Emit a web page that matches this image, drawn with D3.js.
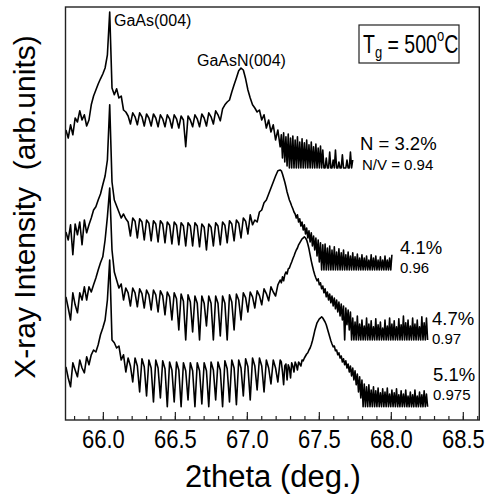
<!DOCTYPE html>
<html><head><meta charset="utf-8">
<script src="https://cdn.jsdelivr.net/npm/d3@7"></script>
<style>body{margin:0;background:#fff}text{font-family:"Liberation Sans",Arial,sans-serif;fill:#000}</style>
</head><body><svg id="c" width="489" height="501"></svg>
<script>
// 2theta sampling (deg.): coarse to 67.228, finer afterwards
const theta = [65.740,65.756,65.772,65.788,65.804,65.820,65.836,65.852,65.868,65.884,
65.900,65.916,65.932,65.948,65.964,65.980,65.996,66.012,66.028,66.044,
66.060,66.076,66.092,66.108,66.124,66.140,66.156,66.172,66.188,66.204,
66.220,66.236,66.252,66.268,66.284,66.300,66.316,66.332,66.348,66.364,
66.380,66.396,66.412,66.428,66.444,66.460,66.476,66.492,66.508,66.524,
66.540,66.556,66.572,66.588,66.604,66.620,66.636,66.652,66.668,66.684,
66.700,66.716,66.732,66.748,66.764,66.780,66.796,66.812,66.828,66.844,
66.860,66.876,66.892,66.908,66.924,66.940,66.956,66.972,66.988,67.004,
67.020,67.036,67.052,67.068,67.084,67.100,67.116,67.132,67.148,67.164,
67.180,67.196,67.212,67.228,
67.236,67.244,67.252,67.260,67.268,67.276,67.284,67.292,67.300,67.308,
67.316,67.324,67.332,67.340,67.348,67.356,67.364,67.372,67.380,67.388,
67.396,67.404,67.412,67.420,67.428,67.436,67.444,67.452,67.460,67.468,
67.476,67.484,67.492,67.500,67.508,67.516,67.524,67.532,67.540,67.548,
67.556,67.564,67.572,67.580,67.588,67.596,67.604,67.612,67.620,67.628,
67.636,67.644,67.652,67.660,67.668,67.676,67.684,67.692,67.700,67.708,
67.716,67.724,67.732,67.740,67.748,67.756,67.764,67.772,67.780,67.788,
67.796,67.804,67.812,67.820,67.828,67.836,67.844,67.852,67.860,67.868,
67.876,67.884,67.892,67.900,67.908,67.916,67.924,67.932,67.940,67.948,
67.956,67.964,67.972,67.980,67.988,67.996,68.004,68.012,68.020,68.028,
68.036,68.044,68.052,68.060,68.068,68.076,68.084,68.092,68.100,68.108,
68.116,68.124,68.132,68.140,68.148,68.156,68.164,68.172,68.180,68.188,
68.196,68.204,68.212,68.220,68.228,68.236,68.244,68.252];

// Intensity (arb. units, curves offset vertically as in the figure)
const intN32 = [72.5,70.5,73.8,71.3,75.5,74.5,77.3,75,76.3,73.5,
75,78.8,81,82.5,84,85.3,86.5,88,91.3,102,
83,81.3,82.8,80.5,81,77.5,77,76,74,76.8,
75.8,73.8,76.8,75.8,73.5,76.5,75.5,73.5,76.5,75.5,
73.3,76.3,75.3,73.3,76.3,75.3,73,76.3,75.3,73,
76,75,68.3,76,75,73.3,76.3,75.3,73.3,76.5,
75.5,73.5,76.8,75.8,74,77.3,76.3,74.8,77.8,78.8,
79.5,80,82,83.8,85.5,87.3,88,87.5,85.3,82.5,
80.5,78.8,78,77,77.5,75,76.3,73,75,72,
73.8,70,72.5,68.3,
71.3,65.5,71.8,64.5,70.8,63.5,71.5,63,70.5,63,
71,63,70,63,70.8,63,69.5,63,70.3,63,
69.3,63,70,63,68.8,63,69.5,63,68.3,63,
69,63,68,63,68.5,63,67.5,63,63,65.5,
63,63,67,63,63,65,63,67.5,63,63,
64.5,63,63,66.3,63,63,63,65,63,63,
67,63,65];

const intN41 = [47,45,48.8,41.3,49,46.3,49.5,43.8,50,46.8,
48.8,50.5,52.5,53.3,55,56.5,58.8,61,65,78.8,
59.5,55,53.5,52,50.5,51.5,50.3,49.5,46,50.5,
49.7,45.5,50.3,49.5,45,50,49.2,44.8,49.8,49,
44.5,49.8,49,44.3,49.5,48.7,44,49.5,48.7,43.8,
49.3,48.5,43.5,49.3,48.5,43.5,49.3,48.5,43.3,49,
48.2,42.5,49,48.2,43.5,49.3,48.5,43.8,49.5,48.7,
44.3,49.8,49,44.8,50,49.2,45.5,50.5,49.7,46.5,
51.3,48.8,50,49.5,52,52.5,54.3,55,56.5,58,
59.5,61,62.3,62.5,
62.3,61.5,60.5,59.5,58.3,57,56,55,54.3,53.5,
52.8,52,51.5,50.5,51.3,49.5,50.3,48.5,49.5,47.5,
48.8,46.5,48,45.5,47.3,44.5,46.8,43.5,46,42.5,
45.5,41,45,39.5,44.3,37.5,43.8,37.5,44,37.5,
43,37.5,43.5,37.5,42.5,37.5,43.3,37.5,42,37.5,
42.8,37.5,41.8,37.5,42.5,37.5,41.3,37.5,42,37.5,
41,37.5,41.8,37.5,40.8,37.5,41.5,37.5,40.5,37.5,
41.3,37.5,40.5,37.5,41,37.5,40,37.5,41.3,37.5,
40.5,37.5,41,37.5,40,37.5,40.8,37.5,40,37.5,
41,37.5,40,37.5,40.5,37.5,41.3];

const intN47 = [30.8,28,25,31.8,28.8,26.8,31.8,30,33.3,30,
33.3,32,33.8,35.5,37.5,39.3,40.8,45,50.8,58,
42.5,37,35,33,34,30,33,31.8,28.5,33,
31.8,28.3,32.8,31.6,28,32.5,31.3,27.5,32.5,31.3,
27,32.3,31.1,26.3,32,30.8,25,31.8,30.3,22.5,
31.5,29.7,20,31.3,29.5,22,31,29.2,20,31,
29.2,23.5,31,29.2,20,31,29.2,21,31,29.2,
20,31.3,29.5,22.5,31.5,30,25,31.8,30.6,27,
32,30.8,28,32.3,31.1,28.8,32.8,31.6,29.8,33.3,
32,31,33.8,35,
34.3,35.8,34.8,36.3,37,36.5,37.8,38,38.8,39.5,
40.3,41,41.8,42.5,43,43.8,44.3,44.8,45.3,45.5,
45.8,45.5,45,44,42.8,41.3,39.8,38.5,37.3,36.3,
35.5,34.8,35.3,33.8,34.3,32.8,33.5,31.8,32.8,30.8,
32,30,31.5,29.3,31,28.5,30.5,27.8,30,27,
29.5,26,29,25,28.5,20,28,23.8,27.5,22.5,
27,20,25.5,20,24.5,20,26,20,24,20,
25,20,23.5,20,25.5,20,24,20,24.8,20,
23.3,20,25.3,20,23.8,20,24.5,20,23,20,
25,20,23.5,20,25.5,20,24,20,24.8,20,
23.3,20,25.3,20,23.8,20,26,20,24.3,20,
25,20,23.5,20,25.5,20,24,20,25,20,
23.3,20,25.8,20,24.3,20,25.5,20];

const intN51 = [13.3,10.5,8.3,14.3,12.5,10.8,15,13,11.8,15.8,
13.8,16.3,17.5,17,18.8,21.3,23,25,30,40,
20,19.3,18,18.5,15,16.3,12,15.5,13.5,9.5,
15.5,13.5,7,15.3,13.3,6,15,13,4.5,15,
13,5.5,14.8,12.8,3.3,14.5,12.5,4.5,14.5,12.5,
3.3,14.3,12.3,5,14.3,12.3,3.3,14.3,12.3,4,
14.3,12.3,3.3,14.5,12.5,5,14.5,12.5,3.3,14.8,
12.8,4.5,15,13,3.8,15,13,6,15.3,13.3,
5,15.5,13.5,7.5,15.5,13.5,7,15,13,9,
15,13,9.5,15,
14.5,12,8.8,13.5,14,10,13.8,13,10.5,14.3,
13.5,12,14.5,13.8,12.5,14.5,14,13.5,15,14.8,
15.5,16,16.5,16.8,17.5,18,18.8,19.8,21,22.3,
23.3,24.3,24.8,25.3,25.5,25.8,25.5,25,24.5,23.8,
22.8,21.8,20.8,19.8,19,18.3,18.5,17.3,17.5,16.3,
16.8,15.5,16,14.5,15.3,13.8,14.8,13,14,12,
13.5,11,13,10,12.3,8.8,11.5,7,10.8,5.5,
10,3.3,9,3.3,8.3,3.3,8.8,3.3,7.5,3.3,
8.3,3.3,7.3,3.3,8,3.3,6.8,3.3,7.8,3.3,
7,3.3,8,3.3,6.5,3.3,7.5,3.3,6.8,3.3,
7.8,3.3,6.3,3.3,7.3,3.3,6.5,3.3,7.5,3.3,
6,3.3,7,3.3,6.3,3.3,7.5,3.3,6,3.3,
7,3.3,6.3,3.3,7.3,3.3,6.5,3.3];

const seriesList = [intN32, intN41, intN47, intN51];
const xTickLabels = ["66.0","66.5","67.0","67.5","68.0","68.5"];
const xTickValues = [66.0,66.5,67.0,67.5,68.0,68.5];
const nLabels = ["N = 3.2%","4.1%","4.7%","5.1%"];
const nvLabels = ["N/V = 0.94","0.96","0.97","0.975"];

const svg = d3.select("#c");
const L = 65.5, R = 479.3, T = 7, B = 420;
const x = d3.scaleLinear().domain([65.737, 68.611]).range([L, R]);
const y = d3.scaleLinear().domain([0, 100]).range([B, 20]);

// curves
const line = d3.line()
  .defined((d) => d[1] != null)
  .x((d) => x(d[0])).y((d) => y(d[1]));
seriesList.forEach((s) => {
  const pts = s.map((v, i) => [theta[i], v]);
  svg.append("path").attr("d", line(pts))
    .attr("fill", "none").attr("stroke", "#000")
    .attr("stroke-width", 1.6).attr("stroke-linejoin", "round");
});

// ticks (inward)
const minor = d3.range(65.8, 68.61, 0.1);
const ax = svg.append("g");
ax.selectAll("line.mi").data(minor).join("line")
  .attr("x1", (d) => x(d)).attr("x2", (d) => x(d))
  .attr("y1", B).attr("y2", B - 4).attr("stroke", "#222").attr("stroke-width", 1.2);
ax.selectAll("line.ma").data(xTickValues).join("line")
  .attr("x1", (d) => x(d)).attr("x2", (d) => x(d))
  .attr("y1", B).attr("y2", B - 8).attr("stroke", "#222").attr("stroke-width", 1.2);
ax.selectAll("text").data(xTickValues).join("text")
  .attr("transform", (d) => `translate(${x(d)},448) scale(1,1.14)`)
  .attr("text-anchor", "middle").attr("font-size", 22)
  .text((d, i) => xTickLabels[i]);

// frame
svg.append("rect").attr("x", L).attr("y", T).attr("width", R - L).attr("height", B - T)
  .attr("fill", "none").attr("stroke", "#222").attr("stroke-width", 1.4);

// axis titles
svg.append("text").attr("x", 273).attr("y", 487).attr("text-anchor", "middle")
  .attr("font-size", 31).text("2theta (deg.)");
svg.append("text").attr("transform", "translate(35,207) rotate(-90)")
  .attr("text-anchor", "middle").attr("font-size", 30).attr("xml:space", "preserve")
  .text("X-ray Intensity  (arb.units)");

// peak labels
svg.append("text").attr("x", 114).attr("y", 26).attr("font-size", 16).text("GaAs(004)");
svg.append("text").attr("x", 197).attr("y", 66).attr("font-size", 16).text("GaAsN(004)");

// growth temperature box
svg.append("rect").attr("x", 359).attr("y", 25).attr("width", 100).attr("height", 38)
  .attr("fill", "#fff").attr("stroke", "#222").attr("stroke-width", 1.2);
const tg = svg.append("text").attr("transform", "translate(363,53) scale(1,1.3)")
  .attr("font-size", 19.5);
tg.append("tspan").text("T");
tg.append("tspan").attr("font-size", 13).attr("dy", 4).text("g");
tg.append("tspan").attr("dy", -4).text(" = 500");
tg.append("tspan").attr("font-size", 13).attr("dy", -9).text("o");
tg.append("tspan").attr("dy", 9).text("C");

// composition labels
const nPos = [[360,150],[400,254],[432,325],[433,381]];
const vPos = [[362,170],[400,273],[432,344],[433,400]];
nLabels.forEach((t, i) => {
  svg.append("text").attr("x", nPos[i][0]).attr("y", nPos[i][1])
    .attr("font-size", 18.5).text(t);
  svg.append("text").attr("x", vPos[i][0]).attr("y", vPos[i][1])
    .attr("font-size", 15).text(nvLabels[i]);
});
</script></body></html>
